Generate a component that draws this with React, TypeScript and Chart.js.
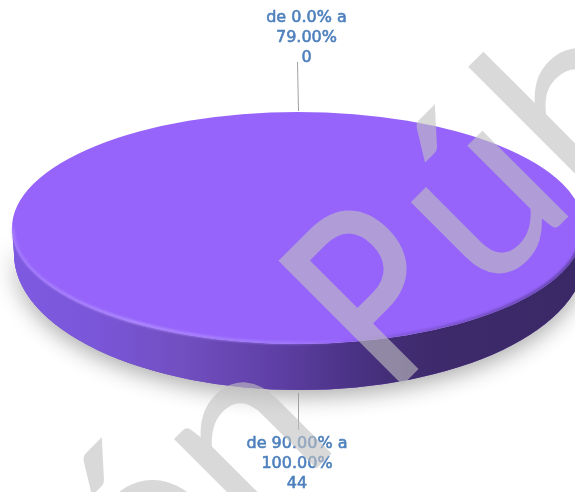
import React, { useEffect, useRef } from "react";
import { Chart, registerables } from "chart.js";

Chart.register(...registerables);

const categories = ["de 0.0% a 79.00%", "de 90.00% a 100.00%"];
const categoryLines = [["de 0.0% a", "79.00%"], ["de 90.00% a", "100.00%"]];
const values = [0, 44];
const sliceColors = ["#4f81bd", "#9664fa"];
const watermarkHead = "Versión";
const watermarkLetters = ["P", "ú", "b", "l", "i", "c", "a"];
// ink box of the two letters whose proportions differ from the installed font
const letterInk: Record<string, [number, number]> = { P: [13, 111], "ú": [147, 249] };

const W = 575, H = 492;
const CX = 298, CY = 228, RX = 286, RY = 116, DEPTH = 46;
const BASE_CX = 300, BASE_CY = 254, BASE_RX = 286, BASE_RY = 136;

const pie3d = {
  id: "pie3d",
  beforeDatasetsDraw(chart: any) {
    const ctx = chart.ctx;
    const arc = chart.getDatasetMeta(0).data[1];
    const path = () => {
      ctx.beginPath();
      ctx.ellipse(CX, CY, RX, RY, 0, 0, Math.PI);
      ctx.lineTo(BASE_CX - BASE_RX, BASE_CY);
      ctx.ellipse(BASE_CX, BASE_CY, BASE_RX, BASE_RY, 0, Math.PI, 0, true);
      ctx.closePath();
    };
    // soft ground shadow
    ctx.save();
    ctx.shadowColor = "rgba(0,0,0,0.32)";
    ctx.shadowBlur = 22;
    ctx.shadowOffsetY = 7;
    ctx.fillStyle = "#6a48c0";
    path();
    ctx.fill();
    ctx.restore();
    // side wall
    const g = ctx.createLinearGradient(CX - RX, 0, CX + RX, 0);
    g.addColorStop(0, "#7e5ae2");
    g.addColorStop(0.15, "#7a56d8");
    g.addColorStop(0.3, "#714fc0");
    g.addColorStop(0.45, "#6040a8");
    g.addColorStop(0.6, "#4a3284");
    g.addColorStop(0.72, "#3e2a6c");
    g.addColorStop(1, "#3a2866");
    ctx.fillStyle = g;
    path();
    ctx.fill();
    // flatten the library's circle onto the ellipse
    ctx.save();
    ctx.translate(CX, CY);
    ctx.scale(RX / arc.outerRadius, RY / arc.outerRadius);
    ctx.translate(-arc.x, -arc.y);
  },
  afterDatasetsDraw(chart: any) {
    const ctx = chart.ctx;
    ctx.restore();
    // bright rim on lit side
    const g = ctx.createLinearGradient(CX - RX, 0, CX + 60, 0);
    g.addColorStop(0, "rgba(175,140,255,0.55)");
    g.addColorStop(0.35, "rgba(178,145,255,0.85)");
    g.addColorStop(0.8, "rgba(170,135,255,0.55)");
    g.addColorStop(1, "rgba(170,135,255,0)");
    ctx.save();
    ctx.strokeStyle = g;
    ctx.lineWidth = 3;
    ctx.filter = "blur(1.2px)";
    ctx.beginPath();
    ctx.ellipse(CX, CY, RX - 1, RY - 1, 0, Math.PI * 0.45, Math.PI);
    ctx.stroke();
    // dark soft edge on shaded side
    const d = ctx.createLinearGradient(CX + 20, 0, CX + RX, 0);
    d.addColorStop(0, "rgba(58,40,102,0)");
    d.addColorStop(1, "rgba(58,40,102,0.6)");
    ctx.strokeStyle = d;
    ctx.beginPath();
    ctx.ellipse(CX, CY, RX - 1, RY - 1, 0, -0.08, Math.PI * 0.45);
    ctx.stroke();
    ctx.restore();
  },
  afterDraw(chart: any) {
    const ctx = chart.ctx;
    const arcs = chart.getDatasetMeta(0).data;
    ctx.save();
    arcs.forEach((arc: any, i: number) => {
      const mid = (arc.startAngle + arc.endAngle) / 2;
      const up = Math.sin(mid) < 0;
      const x = CX + RX * Math.cos(mid);
      const edge = CY + RY * Math.sin(mid) + (up ? 0 : DEPTH);
      // leader
      ctx.strokeStyle = "#a0a0a0";
      ctx.lineWidth = 1;
      ctx.beginPath();
      ctx.moveTo(x + 0.5, up ? edge - 1 : edge + 3);
      ctx.lineTo(x + (up ? -0.5 : 0.5), up ? 62 : 430);
      ctx.stroke();
      // label
      ctx.fillStyle = "#4f81bd";
      ctx.strokeStyle = "#4f81bd";
      ctx.lineWidth = 0.6;
      ctx.font = "16px 'DejaVu Sans'";
      ctx.textAlign = "center";
      ctx.textBaseline = "middle";
      const lines = [...categoryLines[i], String(values[i])];
      const top = up ? 18 : 444;
      const lx = up ? 306.5 : 297;
      lines.forEach((t, k) => {
        ctx.fillText(t, lx, top + k * 20);
        ctx.strokeText(t, lx, top + k * 20);
      });
    });
    ctx.restore();
    // watermark: painted opaque off-screen, then laid over at one alpha
    const off = document.createElement("canvas");
    off.width = W;
    off.height = H;
    const o = off.getContext("2d")!;
    o.translate(392.5, 392.5);
    o.rotate(-Math.PI / 4);
    o.font = "400 240px Lato";
    o.fillStyle = "rgb(193,193,193)";
    o.strokeStyle = "rgb(193,193,193)";
    o.textAlign = "left";
    o.textBaseline = "alphabetic";
    const start = 155 - o.measureText(watermarkHead + " P").width - 20;
    o.fillText(watermarkHead, start, 0);
    let pen = 283 + o.measureText("b").actualBoundingBoxLeft;
    watermarkLetters.forEach((ch) => {
      const ink = letterInk[ch];
      const m = o.measureText(ch);
      if (ink) {
        const inkL = -m.actualBoundingBoxLeft;
        const inkW = m.actualBoundingBoxRight + m.actualBoundingBoxLeft;
        const sx = (ink[1] - ink[0]) / inkW;
        o.save();
        o.translate(ink[0] - inkL * sx, 0);
        o.scale(sx, 1);
        o.fillText(ch, 0, 0);
        if (ch === "P") {
          o.lineWidth = 3.5;
          o.strokeText(ch, 0, 0);
        }
        o.restore();
      } else {
        o.fillText(ch, pen, 0);
        pen += m.width;
      }
    });
    ctx.save();
    ctx.globalAlpha = 0.61;
    ctx.drawImage(off, 0, 0);
    ctx.restore();
  },
};

export default function App() {
  const ref = useRef<HTMLCanvasElement>(null);
  useEffect(() => {
    const chart = new Chart(ref.current!, {
      type: "pie",
      data: {
        labels: categories,
        datasets: [{ data: values, backgroundColor: sliceColors, borderWidth: 0, clip: false } as any],
      },
      options: {
        responsive: false,
        animation: false,
        layout: { padding: 0 },
        plugins: { legend: { display: false }, tooltip: { enabled: false } },
      },
      plugins: [pie3d],
    });
    return () => chart.destroy();
  }, []);
  return (
    <canvas
      ref={ref}
      width={W}
      height={H}
      style={{ position: "fixed", left: 0, top: 0, width: W, height: H, display: "block" }}
    />
  );
}
